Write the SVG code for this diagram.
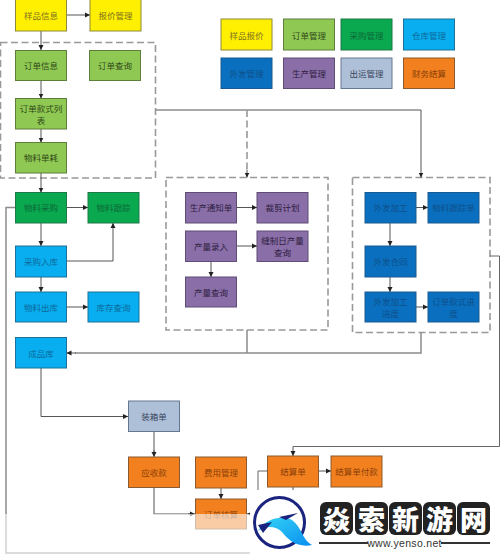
<svg xmlns="http://www.w3.org/2000/svg" width="500" height="554" viewBox="0 0 500 554">
<style>
text{font-family:"Noto Sans CJK SC","Liberation Sans",sans-serif;font-size:8.5px;text-anchor:middle;dominant-baseline:central}
.n{stroke-width:1}
.y{fill:#ffef00;stroke:#8f8a3a}.y~text{fill:#7d7420}
.g{fill:#8fc853;stroke:#5e7f3c}.g~text{fill:#2f4a18}
.d{fill:#0aa84f;stroke:#1c7a48}.d~text{fill:#0c6a38}
.s{fill:#08aeef;stroke:#1d7198}.s~text{fill:#0d6a9c}
.b{fill:#0a6fbe;stroke:#1a5a92}.b~text{fill:#0f4f8c}
.p{fill:#8a6ea8;stroke:#5f4d75}.p~text{fill:#2e2040}
.t{fill:#aebfd8;stroke:#66788f}.t~text{fill:#38465c}
.o{fill:#f2801f;stroke:#8a5a30}.o~text{fill:#8a3f08}
.l{fill:none;stroke:#555;stroke-width:1;marker-end:url(#a)}
.h{fill:none;stroke:#8c8c8c;stroke-width:1.5}
.f{fill:none;stroke:#999;stroke-width:1.6;stroke-dasharray:7 3.5}
.k{fill:#222}
.m{font-size:27px;font-weight:900;fill:#fff}
</style>
<defs>
<marker id="a" markerUnits="userSpaceOnUse" markerWidth="6" markerHeight="6" refX="5" refY="3" orient="auto"><path d="M0 0.5L5 3L0 5.500z" fill="#222"/></marker>
<linearGradient id="w" x1="0" y1="0" x2="1" y2="1"><stop offset="0" stop-color="#35d4f5"/><stop offset="1" stop-color="#0a8ff0"/></linearGradient>
</defs>
<rect width="500" height="554" fill="#fff"/>
<g id="containers">
<rect class="f" x="0.5" y="42.5" width="155" height="135.5"/>
<rect class="f" x="166" y="177.5" width="162" height="152.5"/>
<rect class="f" x="352.5" y="177.5" width="137.5" height="155"/>
</g>
<g id="connectors">
<path class="l" d="M66.500 15H90"/>
<path class="l" d="M41 31V50"/>
<path class="l" d="M41 80.500V98.500"/>
<path class="l" d="M41 129V142.500"/>
<path class="l" d="M41 173V192.500"/>
<path class="l" d="M66.500 207.500H88"/>
<path class="l" d="M41 223V246"/>
<path class="l" d="M66.500 261H113V223"/>
<path class="l" d="M41 277V292"/>
<path class="l" d="M66.500 307H88"/>
<path class="l" d="M41 368V416.500H128"/>
<path class="h" d="M154 431.500V452"/>
<path class="l" d="M154 450V457"/>
<path class="h" d="M154 487.500V514H190"/>
<path class="l" d="M188 514H195"/>
<path class="l" d="M221 488V499"/>
<path class="l" d="M319 471H331"/>
<path class="l" d="M236.500 207.500H257"/>
<path class="l" d="M236.500 246H257"/>
<path class="l" d="M211 261V277"/>
<path class="l" d="M416 207.500H428"/>
<path class="l" d="M390 223V246"/>
<path class="l" d="M390 277V292"/>
<path class="l" d="M416 307H428"/>
<path class="h" d="M155.500 110H421"/>
<path class="l" d="M421 110V177.500"/>
<path class="f" d="M247 110V172" stroke-dasharray="4 2.500"/>
<path class="l" d="M247 170V177.500"/>
<path class="h" d="M421 332.500V353H75M247 330V353"/>
<path class="l" d="M76 353H66.500"/>
<path fill="none" stroke="#666" stroke-width="1" d="M490 256H499.500V446.500H293"/>
<path class="l" d="M293 446.500V456"/>
<path class="h" d="M15.500 207.500H6V553H260"/>
<path fill="none" stroke="#666" stroke-width="1" d="M267.500 471H258V514"/>
<path class="l" d="M258 514H247"/>
<path fill="none" stroke="#555" d="M293 487V495"/>
</g>
<g id="n1"><rect class="n y" x="15.500" y="-1" width="51" height="32"/><text x="41" y="15">样品信息</text></g>
<g id="n2"><rect class="n y" x="90" y="-1" width="51" height="32"/><text x="115.500" y="15">报价管理</text></g>
<g id="n3"><rect class="n g" x="15.500" y="50.500" width="51" height="30"/><text x="41" y="65">订单信息</text></g>
<g id="n4"><rect class="n g" x="89.500" y="50.500" width="51" height="30"/><text x="115" y="65">订单查询</text></g>
<g id="n5"><rect class="n g" x="15.500" y="98.500" width="51" height="30.500"/><text x="41" y="108">订单款式列</text><text x="41" y="119.500">表</text></g>
<g id="n6"><rect class="n g" x="15.500" y="142.500" width="51" height="30.500"/><text x="41" y="157">物料单耗</text></g>
<g id="n7"><rect class="n d" x="15.500" y="192.500" width="51" height="30.500"/><text x="41" y="207">物料采购</text></g>
<g id="n8"><rect class="n d" x="88" y="192.500" width="51" height="30.500"/><text x="113.500" y="207">物料跟踪</text></g>
<g id="n9"><rect class="n s" x="15.500" y="246" width="51" height="31"/><text x="41" y="261">采购入库</text></g>
<g id="n10"><rect class="n s" x="15.500" y="292" width="51" height="30"/><text x="41" y="307">物料出库</text></g>
<g id="n11"><rect class="n s" x="88" y="292" width="51" height="30"/><text x="113.500" y="307">库存查询</text></g>
<g id="n12"><rect class="n s" x="15.500" y="337.500" width="51" height="30.500"/><text x="41" y="352.500">成品库</text></g>
<g id="n13"><rect class="n p" x="185.500" y="192.500" width="51" height="30.500"/><text x="211" y="207">生产通知单</text></g>
<g id="n14"><rect class="n p" x="257" y="192.500" width="51" height="30.500"/><text x="282.500" y="207">裁剪计划</text></g>
<g id="n15"><rect class="n p" x="185.500" y="231" width="51" height="30.500"/><text x="211" y="245.500">产量录入</text></g>
<g id="n16"><rect class="n p" x="257" y="231" width="51" height="30.500"/><text x="282.500" y="240">缝制日产量</text><text x="282.500" y="251.500">查询</text></g>
<g id="n17"><rect class="n p" x="185.500" y="277" width="51" height="30"/><text x="211" y="291.500">产量查询</text></g>
<g id="n18"><rect class="n b" x="365" y="192.500" width="51" height="30.500"/><text x="390.500" y="207">外发加工</text></g>
<g id="n19"><rect class="n b" x="428" y="192.500" width="51" height="30.500"/><text x="453.500" y="207">物料跟踪单</text></g>
<g id="n20"><rect class="n b" x="365" y="246" width="51" height="31"/><text x="390.500" y="261">外发合同</text></g>
<g id="n21"><rect class="n b" x="365" y="292" width="51" height="30"/><text x="390.500" y="301">外发加工</text><text x="390.500" y="312.500">进度</text></g>
<g id="n22"><rect class="n b" x="428" y="292" width="51" height="30"/><text x="453.500" y="301">订单款式进</text><text x="453.500" y="312.500">度</text></g>
<g id="n23"><rect class="n t" x="128.500" y="401" width="51" height="30.500"/><text x="154" y="416">装箱单</text></g>
<g id="n24"><rect class="n o" x="128.500" y="457" width="51" height="30.500"/><text x="154" y="472">应收款</text></g>
<g id="n25"><rect class="n o" x="195.500" y="457" width="51" height="31"/><text x="221" y="472">费用管理</text></g>
<g id="n26"><rect class="n o" x="195.500" y="499" width="51" height="30"/><text x="221" y="514">订单核算</text></g>
<g id="n27"><rect class="n o" x="267.500" y="456" width="51" height="31"/><text x="293" y="471">结算单</text></g>
<g id="n28"><rect class="n o" x="331" y="456" width="51" height="31"/><text x="356.500" y="471">结算单付款</text></g>
<g id="legend">
<g id="l1"><rect class="n y" x="221" y="19" width="51" height="31"/><text x="246.500" y="34.500">样品报价</text></g>
<g id="l2"><rect class="n g" x="283.500" y="19" width="51" height="31"/><text x="309" y="34.500">订单管理</text></g>
<g id="l3"><rect class="n d" x="341" y="19" width="51" height="31"/><text x="366.500" y="34.500">采购管理</text></g>
<g id="l4"><rect class="n s" x="403.500" y="19" width="51" height="31"/><text x="429" y="34.500">仓库管理</text></g>
<g id="l5"><rect class="n b" x="221" y="58" width="51" height="30.500"/><text x="246.500" y="73">外发管理</text></g>
<g id="l6"><rect class="n p" x="283.500" y="58" width="51" height="30.500"/><text x="309" y="73">生产管理</text></g>
<g id="l7"><rect class="n t" x="341" y="58" width="51" height="30.500"/><text x="366.500" y="73">出运管理</text></g>
<g id="l8"><rect class="n o" x="403.500" y="58" width="51" height="30.500"/><text x="429" y="73">财务结算</text></g>
</g>
<g id="watermark">
<rect x="0" y="514" width="250" height="40" fill="#fff" opacity=".6"/>
<rect x="250" y="490" width="250" height="64" fill="#fff"/>
<circle cx="279.500" cy="522.500" r="25" fill="none" stroke="#1a237e" stroke-width="3"/>
<path d="M258 531C266 518 282 515 292 520C302 527 302 540 312 545C298 548 288 540 282 532C276 526 266 525 258 531Z" fill="url(#w)"/>
<path d="M258 525L272 522L263 533Z" fill="#1a237e"/>
<path d="M279 517L298 513L286 520Z" fill="#1a237e"/>
<rect class="k" x="320" y="502" width="33" height="33" rx="6"/>
<rect class="k" x="355" y="502" width="33" height="33" rx="6"/>
<rect class="k" x="389" y="502" width="33" height="33" rx="6"/>
<rect class="k" x="423" y="502" width="33" height="33" rx="6"/>
<rect class="k" x="457" y="502" width="33" height="33" rx="6"/>
<text class="m" x="336.500" y="518">焱</text>
<text class="m" x="371.500" y="518">索</text>
<text class="m" x="405.500" y="518">新</text>
<text class="m" x="439.500" y="518">游</text>
<text class="m" x="473.500" y="518">网</text>
<path d="M319 543H368M441 543H490" stroke="#333" stroke-width="2" fill="none"/>
<text x="404.500" y="543" style="font-family:'Liberation Sans',sans-serif;font-size:10.500px;fill:#333;letter-spacing:.3px">www.yenso.net</text>
</g>
</svg>
